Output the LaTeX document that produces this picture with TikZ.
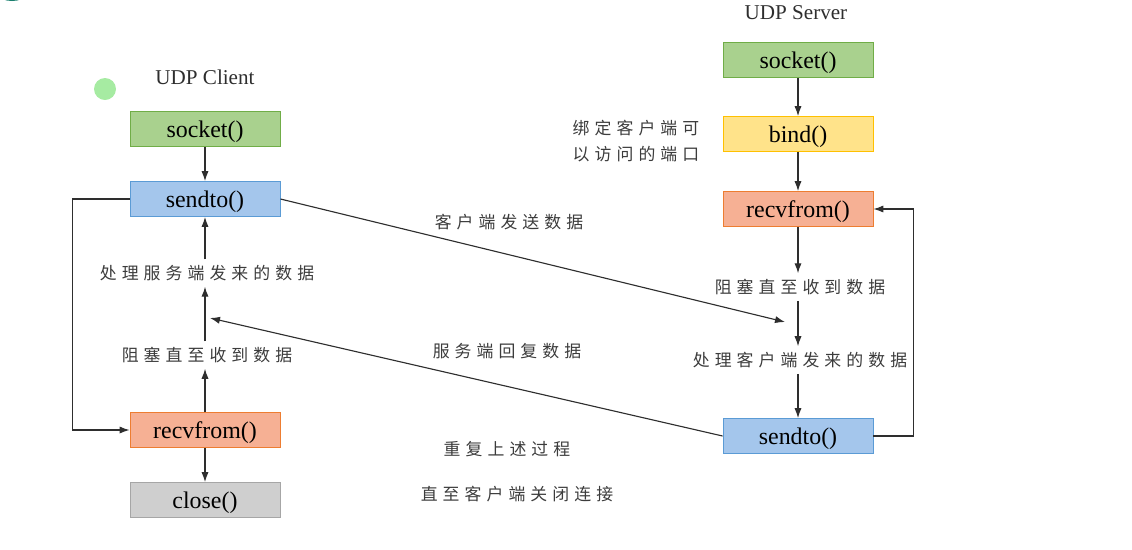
\documentclass[tikz,border=0pt]{standalone}
\usepackage{fontspec}
\setmainfont{Liberation Serif}
\newfontfamily\cjk[LetterSpace=30]{Noto Sans CJK SC}
\usetikzlibrary{arrows.meta}
\definecolor{greenfill}{HTML}{A9D18E}
\definecolor{greenline}{HTML}{70AD47}
\definecolor{bluefill}{HTML}{A4C6EC}
\definecolor{blueline}{HTML}{5B9BD5}
\definecolor{orangefill}{HTML}{F6B094}
\definecolor{orangeline}{HTML}{ED7D31}
\definecolor{yellowfill}{HTML}{FFE38A}
\definecolor{yellowline}{HTML}{FFC000}
\definecolor{grayfill}{HTML}{CFCFCF}
\definecolor{grayline}{HTML}{A6A6A6}
\definecolor{notegray}{HTML}{3C3C3C}
\definecolor{linegray}{HTML}{2E2E2E}
\definecolor{dotgreen}{HTML}{A6EBA2}
\definecolor{cornerteal}{HTML}{1A7F6E}
\tikzset{
    box/.style = {draw, minimum width = 3.75cm, minimum height = 0.875cm, text depth = 0pt, line width = 0.6pt, font = \fontsize{17}{19}\selectfont},
    greenbox/.style = {box, fill = greenfill, draw = greenline},
    bluebox/.style = {box, fill = bluefill, draw = blueline},
    orangebox/.style = {box, fill = orangefill, draw = orangeline},
    yellowbox/.style = {box, fill = yellowfill, draw = yellowline},
    graybox/.style = {box, fill = grayfill, draw = grayline},
    note/.style = {inner sep = 4pt, text = notegray, font = \cjk\fontsize{12}{18}\selectfont},
    heading/.style = {text = linegray, font = \fontsize{15}{17}\selectfont},
    flow/.style = {draw = linegray, line width = 0.8pt, -{Latex[length = 2.5mm, width = 1.8mm]}}
}
\begin{document}
\begin{tikzpicture}[x = 0.025cm, y = -0.025cm]
            \useasboundingbox (0,0) rectangle (1132,549);
            \fill[cornerteal] (12,-25) circle [radius = 26];
            \fill[dotgreen] (105,89) circle [radius = 11];
            % client side
            \node [heading] (clienttitle) at (205,77) {UDP Client};
            \node [greenbox] (csocket) at (205,129) {socket()};
            \node [bluebox] (csend) at (205,199) {sendto()};
            \node [note] (cproc) at (207,273) {处理服务端发来的数据};
            \node [note] (cwait) at (207,355) {阻塞直至收到数据};
            \node [orangebox] (crecv) at (205,430) {recvfrom()};
            \node [graybox] (cclose) at (205,500) {close()};
            \coordinate (carrive) at (210,318);
            % server side
            \node [heading] (servertitle) at (796,13) {UDP Server};
            \node [greenbox] (ssocket) at (798,60) {socket()};
            \node [yellowbox] (sbind) at (798,134) {bind()};
            \node [note, align = center] (bindnote) at (636,141) {绑定客户端可\\以访问的端口};
            \node [orangebox] (srecv) at (798,209) {recvfrom()};
            \node [note] (swait) at (800,287) {阻塞直至收到数据};
            \node [note] (sproc) at (800,360) {处理客户端发来的数据};
            \node [bluebox] (ssend) at (798,436) {sendto()};
            \coordinate (sarrive) at (785,322);
            % middle
            \node [note] (sendnote) at (509,222) {客户端发送数据};
            \node [note] (replynote) at (507,351) {服务端回复数据};
            \node [note] (repeatnote) at (507,449) {重复上述过程};
            \node [note] (untilnote) at (517,494) {直至客户端关闭连接};
            % client arrows
            \draw[flow] (csocket) -- (csend);
            \draw[flow] (cproc.north -| csend) -- (csend);
            \draw[flow] (cwait.north -| csend) -- (cproc.south -| csend);
            \draw[flow] (crecv) -- (cwait.south -| crecv);
            \draw[flow] (crecv) -- (cclose);
            \draw[flow] (csend.west) -- ++(-57,0) |- (crecv.west);
            % server arrows
            \draw[flow] (ssocket) -- (sbind);
            \draw[flow] (sbind) -- (srecv);
            \draw[flow] (srecv) -- (swait.north -| srecv);
            \draw[flow] (swait.south -| srecv) -- (sproc.north -| srecv);
            \draw[flow] (sproc.south -| ssend) -- (ssend);
            \draw[flow] (ssend.east) -- ++(40,0) |- (srecv.east);
            % between the two
            \draw[flow] (csend.east) -- (sarrive);
            \draw[flow] (ssend.west) -- (carrive);
\end{tikzpicture}
\end{document}
